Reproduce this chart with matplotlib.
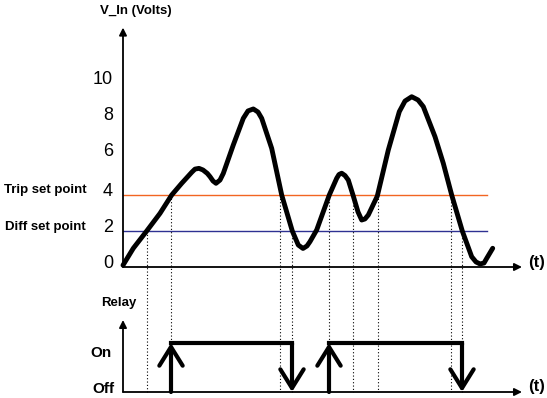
import matplotlib.pyplot as plt
import numpy as np

# input voltage trace (time in arbitrary units, volts)
t = [0.0, 1.03, 2.37, 3.7, 4.87, 5.87, 6.87, 7.2, 7.6, 8.0, 8.43, 8.7, 9.0, 9.3,
     9.7, 10.03, 11.03, 12.03, 12.5, 13.03, 13.5, 13.87, 14.87, 15.87, 16.93,
     17.53, 18.0, 18.4, 18.7, 19.37, 20.63, 21.37, 21.6, 21.87, 22.2, 22.53,
     23.03, 23.5, 23.87, 24.2, 24.53, 25.43, 26.53, 27.63, 28.2, 28.87, 29.5,
     30.03, 31.2, 32.03, 32.87, 33.93, 34.87, 35.3, 35.7, 36.1, 36.37, 36.97]
v = [0.1, 1.04, 2.0, 2.98, 4.0, 4.65, 5.26, 5.44, 5.48, 5.39, 5.2, 5.02, 4.78, 4.65,
     4.83, 5.2, 6.78, 8.26, 8.67, 8.78, 8.61, 8.26, 6.59, 4.0, 2.0,
     1.22, 1.03, 1.17, 1.41, 2.06, 4.0, 4.93, 5.14, 5.21, 5.08, 4.83,
     3.94, 3.06, 2.61, 2.67, 2.89, 3.94, 6.5, 8.63, 9.22, 9.46, 9.28,
     8.91, 7.24, 5.76, 4.0, 2.0, 0.57, 0.28, 0.17, 0.22, 0.48, 1.04]

trip = 4
diff = 2
yticks = [0, 2, 4, 6, 8, 10]

# crossing times and the level they were crossed at
cross_t = [2.4, 4.8, 15.7, 16.9, 20.6, 23.0, 25.5, 32.8, 33.9]
cross_v = [2, 4, 4, 2, 4, 4, 4, 4, 2]

# relay on intervals
relay_on = [(4.8, 16.9), (20.6, 33.9)]

# layout: 10 px per time unit, 18 px per volt, origin at pixel (123, 267)
W, H = 547, 398
x0, y0 = 123, 267
sx, sy = 10.0, 18.0
relay_base = (y0 - 392) / sy
relay_high = (y0 - 343) / sy
line_end = 36.4
t_end = 39.9

fig = plt.figure(figsize=(W / 100, H / 100), dpi=100)
ax = fig.add_axes([0, 0, 1, 1])
ax.set_xlim(-x0 / sx, (W - x0) / sx)
ax.set_ylim((y0 - H) / sy, y0 / sy)
ax.axis('off')

font = 'Liberation Sans'
small = dict(arrowstyle='-|>', lw=1.3, color='black', mutation_scale=11, shrinkA=0, shrinkB=0)

# axes arrows
ax.annotate('', xy=(0, 13.3), xytext=(0, 0), arrowprops=small)
ax.annotate('', xy=(t_end, 0), xytext=(0, 0), arrowprops=small)
ax.annotate('', xy=(0, (y0 - 320) / sy), xytext=(0, relay_base), arrowprops=small)
ax.annotate('', xy=(t_end, relay_base), xytext=(0, relay_base), arrowprops=small)

# set point lines
ax.plot([0, line_end], [trip, trip], color='#f26522', lw=1.0)
ax.plot([0, line_end], [diff, diff], color='#2e3192', lw=1.0)

# dotted verticals
for ct, cv in zip(cross_t, cross_v):
    ax.plot([ct, ct], [cv, relay_base], color='black', lw=0.8, ls=(0, (1, 2)))

# voltage curve
ax.plot(t, v, color='black', lw=3.5, solid_joinstyle='round', solid_capstyle='round')

# relay
big = dict(arrowstyle='->, head_length=0.45, head_width=0.28', lw=3.0, color='black',
           mutation_scale=30, shrinkA=0, shrinkB=0)
for a, b in relay_on:
    ax.annotate('', xy=(a, relay_high), xytext=(a, relay_base), arrowprops=big)
    ax.plot([a, b], [relay_high, relay_high], color='black', lw=3.0, solid_capstyle='projecting')
    ax.annotate('', xy=(b, relay_base), xytext=(b, relay_high), arrowprops=big)

# labels
def px(x, y):
    return (x - x0) / sx, (y0 - y) / sy

for val in yticks:
    off = 7 if val >= 6 else 4
    ax.text(*px(113, y0 - val * sy - off), str(val), ha='right', va='center',
            fontsize=13, family=font)

lab = dict(ha='center', va='center', family=font, weight='bold')
ax.text(*px(136, 11), 'V_In (Volts)', fontsize=9.5, **lab)
ax.text(*px(45, 190), 'Trip set point', fontsize=9.5, **lab)
ax.text(*px(45, 227), 'Diff set point', fontsize=9.5, **lab)
ax.text(*px(119, 303), 'Relay', fontsize=9.5, **lab)
ax.text(*px(101, 353), 'On', fontsize=11, **lab)
ax.text(*px(103, 389), 'Off', fontsize=11, **lab)
ax.text(*px(537, 262), '(t)', fontsize=12, **lab)
ax.text(*px(537, 387), '(t)', fontsize=12, **lab)

fig.savefig('out.png', dpi=100)
